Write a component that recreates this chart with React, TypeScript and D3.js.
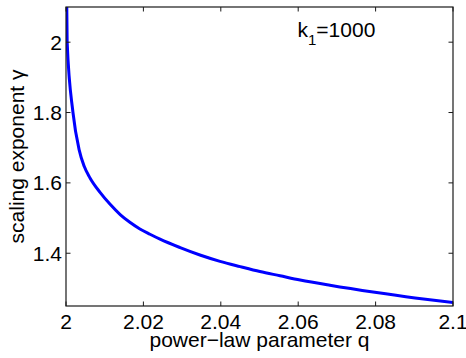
import { useRef, useEffect } from 'react';
import * as d3 from 'd3';

// values
const qValues = [2.0, 2.0003, 2.0018, 2.0034, 2.0047, 2.0062, 2.0088, 2.0114, 2.014, 2.0165, 2.0191, 2.0217, 2.0243, 2.0295, 2.0346, 2.0398, 2.045, 2.0501, 2.0553, 2.0605, 2.0682, 2.0798, 2.0902, 2.1];
const gammaValues = [2.3, 2.0, 1.8, 1.694, 1.647, 1.614, 1.573, 1.539, 1.51, 1.488, 1.469, 1.454, 1.44, 1.416, 1.395, 1.377, 1.362, 1.348, 1.336, 1.324, 1.309, 1.289, 1.273, 1.26];

const xTicks = [2, 2.02, 2.04, 2.06, 2.08, 2.1];
const xTickLabels = ['2', '2.02', '2.04', '2.06', '2.08', '2.1'];
const yTicks = [1.4, 1.6, 1.8, 2];
const yTickLabels = ['1.4', '1.6', '1.8', '2'];

const width = 466;
const height = 358;
const margin = { top: 7, right: 13, bottom: 52, left: 66 };
const font = '"Liberation Sans", Arial, Helvetica, sans-serif';

export default function App() {
  const svgRef = useRef<SVGSVGElement>(null);

  useEffect(() => {
    const svg = d3.select(svgRef.current);
    svg.selectAll('*').remove();

    const innerW = width - margin.left - margin.right;
    const innerH = height - margin.top - margin.bottom;

    const x = d3.scaleLinear().domain([2, 2.1]).range([0, innerW]);
    const y = d3.scaleLinear().domain([1.25, 2.1]).range([innerH, 0]);

    const g = svg.append('g').attr('transform', `translate(${margin.left},${margin.top})`);

    g.append('defs')
      .append('clipPath')
      .attr('id', 'plot-clip')
      .append('rect')
      .attr('width', innerW)
      .attr('height', innerH);

    // curve
    const pts = qValues.map((q, i) => ({ q, v: gammaValues[i] }));
    const line = d3
      .line<{ q: number; v: number }>()
      .x((d) => x(d.q))
      .y((d) => y(d.v))
      .curve(d3.curveMonotoneX);

    g.append('path')
      .datum(pts)
      .attr('clip-path', 'url(#plot-clip)')
      .attr('fill', 'none')
      .attr('stroke', '#0000ff')
      .attr('stroke-width', 3)
      .attr('d', line);

    // box
    g.append('rect')
      .attr('width', innerW)
      .attr('height', innerH)
      .attr('fill', 'none')
      .attr('stroke', '#1a1a1a')
      .attr('stroke-width', 1.2);

    const tickLen = 4.5;

    // x ticks (bottom + top, inward)
    xTicks.forEach((t, i) => {
      const px = x(t);
      g.append('line').attr('x1', px).attr('x2', px).attr('y1', innerH).attr('y2', innerH - tickLen)
        .attr('stroke', '#1a1a1a');
      g.append('line').attr('x1', px).attr('x2', px).attr('y1', 0).attr('y2', tickLen)
        .attr('stroke', '#1a1a1a');
      g.append('text')
        .attr('x', px)
        .attr('y', innerH + 23)
        .attr('text-anchor', 'middle')
        .attr('font-family', font)
        .attr('font-size', 21)
        .attr('fill', '#000')
        .text(xTickLabels[i]);
    });

    // y ticks (left + right, inward)
    yTicks.forEach((t, i) => {
      const py = y(t);
      g.append('line').attr('x1', 0).attr('x2', tickLen).attr('y1', py).attr('y2', py)
        .attr('stroke', '#1a1a1a');
      g.append('line').attr('x1', innerW).attr('x2', innerW - tickLen).attr('y1', py).attr('y2', py)
        .attr('stroke', '#1a1a1a');
      g.append('text')
        .attr('x', -4)
        .attr('y', py + 7.5)
        .attr('text-anchor', 'end')
        .attr('font-family', font)
        .attr('font-size', 21)
        .attr('fill', '#000')
        .text(yTickLabels[i]);
    });

    // axis labels
    g.append('text')
      .attr('x', innerW / 2)
      .attr('y', innerH + 41)
      .attr('text-anchor', 'middle')
      .attr('font-family', font)
      .attr('font-size', 21)
      .attr('fill', '#000')
      .text('power\u2212law parameter q');

    g.append('text')
      .attr('transform', `translate(${24 - margin.left},${innerH / 2}) rotate(-90)`)
      .attr('text-anchor', 'middle')
      .attr('font-family', font)
      .attr('font-size', 21)
      .attr('fill', '#000')
      .text('scaling exponent \u03b3');

    // annotation k_1=1000
    const ann = g.append('text')
      .attr('x', 297.5 - margin.left)
      .attr('y', 36.5 - margin.top)
      .attr('font-family', font)
      .attr('font-size', 21)
      .attr('fill', '#000');
    ann.append('tspan').text('k');
    ann.append('tspan').attr('dy', 8).attr('font-size', 15).text('1');
    ann.append('tspan').attr('dy', -8).text('=1000');
  }, []);

  return (
    <svg
      ref={svgRef}
      width={width}
      height={height}
      style={{ position: 'absolute', left: 0, top: 0, background: '#fff' }}
    />
  );
}
